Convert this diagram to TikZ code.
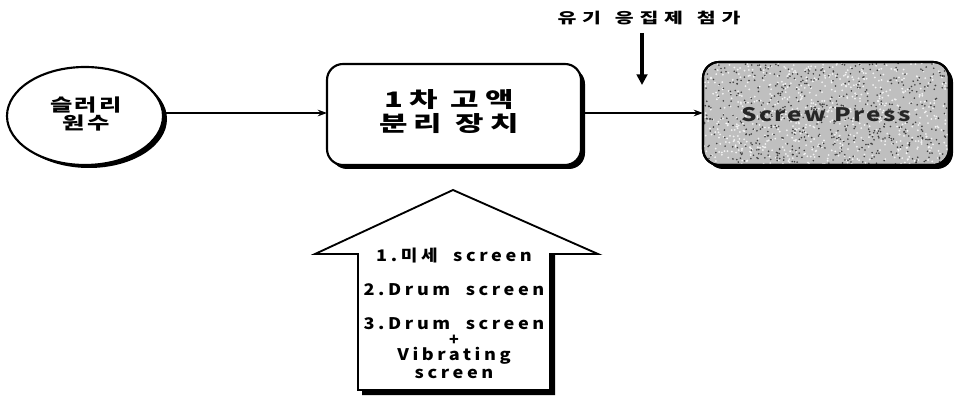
\documentclass[tikz,border=0pt]{standalone}
\usepackage{fontspec}
\setmainfont{Noto Sans CJK KR}
\newfontfamily\krwide[LetterSpace=10]{Noto Sans CJK KR}
\newfontfamily\krwider[LetterSpace=20]{Noto Sans CJK KR}
\newfontfamily\krwidest[LetterSpace=28]{Noto Sans CJK KR}
\usetikzlibrary{arrows.meta}
\tikzset{
  shapeline/.style={draw=black, line width=1.6pt, fill=white},
  flow/.style={draw=black, line width=1pt, -{Stealth[length=7pt,width=5pt]}},
  bigdown/.style={draw=black, line width=2.4pt, -{Triangle[length=8pt,width=8pt]}},
  lbl/.style={font=\krwide\bfseries, align=center, inner sep=0pt},
  scr/.style={lbl, font=\krwider\bfseries\fontsize{12}{13}\selectfont}
}
\begin{document}
\begin{tikzpicture}[x=0.75pt,y=-0.75pt]
\useasboundingbox (0,0) rectangle (956,399);
% slurry ellipse
\fill[black] (89,119) ellipse [x radius=78, y radius=49];
\draw[shapeline] (85,116) ellipse [x radius=78, y radius=49];
\node[lbl, font=\krwide\bfseries\fontsize{13}{14}\selectfont] (e) at (86,114) {\scalebox{1.4}[1]{슬러리}\\\scalebox{1.4}[1]{원수}};
\coordinate (eE) at (163,113);
% primary separator
\fill[black, rounded corners=12pt] (331,68) rectangle (585,169);
\draw[shapeline, rounded corners=12pt] (327,64) rectangle (581,165);
\node[lbl, font=\krwider\bfseries\fontsize{16}{18}\selectfont] (b1) at (449,112) {\scalebox{1.45}[1]{1차 고액}\\\scalebox{1.45}[1]{분리 장치}};
\coordinate (b1W) at (327,113);
\coordinate (b1E) at (581,113);
% screw press
\fill[black, rounded corners=12pt] (707,66) rectangle (953,169);
\draw[draw=black, line width=1.6pt, fill=gray!50, rounded corners=12pt] (703,62) rectangle (949,165);
\begin{scope}
\clip[rounded corners=12pt] (704,63) rectangle (948,164);
\pgfmathsetseed{7}
\foreach \i in {1,...,700}{
  \pgfmathsetmacro{\px}{704+244*rnd}
  \pgfmathsetmacro{\py}{63+101*rnd}
  \fill[gray!10] (\px,\py) circle [radius=1];
}
\foreach \i in {1,...,600}{
  \pgfmathsetmacro{\px}{704+244*rnd}
  \pgfmathsetmacro{\py}{63+101*rnd}
  \fill[black!75] (\px,\py) circle [radius=0.9];
}
\end{scope}
\draw[draw=black, line width=1.6pt, rounded corners=12pt] (703,62) rectangle (949,165);
\node[lbl, font=\krwide\bfseries\fontsize{14}{15}\selectfont, text=black!85] (sp) at (826,115) {\scalebox{1.3}[1]{Screw Press}};
\coordinate (spW) at (703,113);
% flows
\draw[flow] (eE) -- (b1W);
\draw[flow] (b1E) -- (spW);
% coagulant addition
\node[lbl, font=\krwidest\bfseries\fontsize{11}{12}\selectfont] (add) at (649,18) {\scalebox{1.4}[1]{유기\ \,응집제\ \,첨가}};
\coordinate (dT) at (642,33);
\coordinate (dB) at (642,85);
\draw[bigdown] (dT) -- (dB);
% big up arrow
\fill[black] (555,254) -- (555,395) -- (362,395) -- (362,390) -- (550,390) -- (550,254) -- cycle;
\draw[draw=black, line width=1.4pt, fill=white, line join=miter] (453,190) -- (598,254) -- (550,254) -- (550,390) -- (358,390) -- (358,254) -- (315,254) -- cycle;
\node[scr] (s1) at (454,256) {\scalebox{1.13}[1]{1.미세\ \ screen}};
\node[scr] (s2) at (454,290) {\scalebox{1.13}[1]{2.Drum\ \ screen}};
\node[scr] (s3) at (454,324) {\scalebox{1.13}[1]{3.Drum\ \ screen}};
\node[scr] (s4) at (454,340) {+};
\node[scr] (s5) at (454,356) {\scalebox{1.13}[1]{Vibrating}};
\node[scr] (s6) at (454,374) {\scalebox{1.13}[1]{screen}};
\end{tikzpicture}
\end{document}
